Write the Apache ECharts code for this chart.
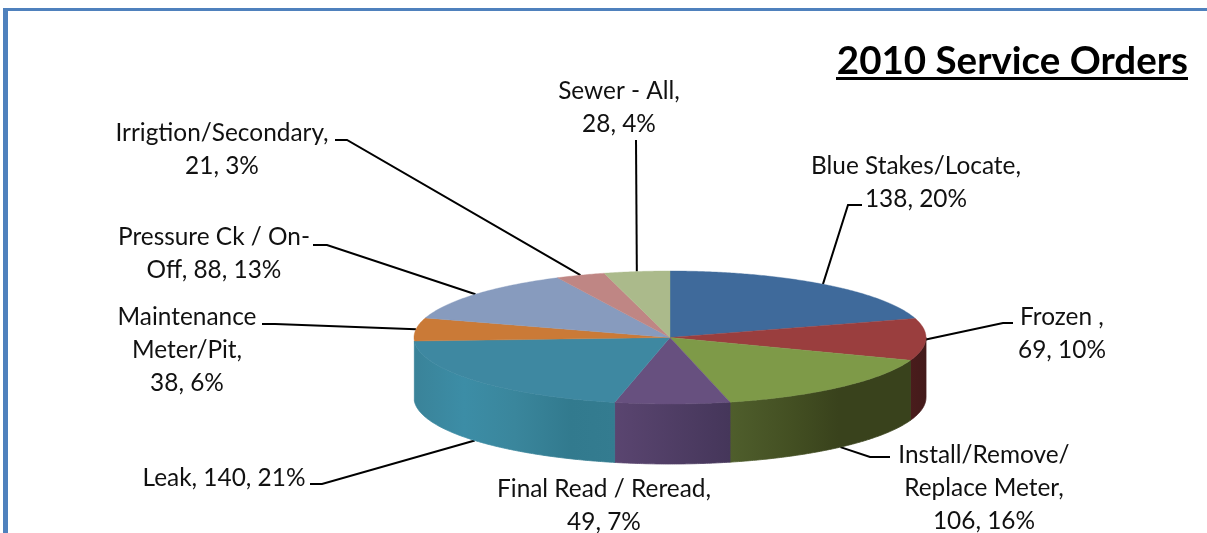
<!DOCTYPE html>
<html>
<head>
<meta charset="utf-8">
<style>html,body{margin:0;padding:0;background:#fff}#c{width:1207px;height:533px}</style>
<script src="https://cdn.jsdelivr.net/npm/echarts@6/dist/echarts.min.js"></script>
</head>
<body>
<div id="c"></div>
<script>
const chartTitle = '2010 Service Orders';
const categories = ['Blue Stakes/Locate','Frozen','Install/Remove/Replace Meter','Final Read / Reread','Leak','Maintenance Meter/Pit','Pressure Ck / On-Off','Irrigtion/Secondary','Sewer - All'];
const orderCounts = [138,69,106,49,140,38,88,21,28];
const percents = [20,10,16,7,21,6,13,3,4];
const labelTemplates = [
  'Blue Stakes/Locate,\n{v}, {p}%',
  'Frozen ,\n{v}, {p}%',
  'Install/Remove/\nReplace Meter,\n{v}, {p}%',
  'Final Read / Reread,\n{v}, {p}%',
  'Leak, {v}, {p}%',
  'Maintenance\nMeter/Pit,\n{v}, {p}%',
  'Pressure Ck / On-\nOff, {v}, {p}%',
  'Irrigtion/Secondary,\n{v}, {p}%',
  'Sewer - All,\n{v}, {p}%'
];
// presentation
const topColors = ['#3F6A9B','#9A3E3E','#7E9A48','#67507F','#3E88A1','#CA7A37','#879BBE','#BF8684','#ABBA8B'];
const wallStops = [
  null,
  [[0,'#4A1C1C'],[1,'#431A1A']],
  [[0,'#4F5E2C'],[0.35,'#434F22'],[0.6,'#39421C'],[1,'#39421C']],
  [[0,'#5A4570'],[1,'#45365A']],
  [[0,'#3A8399'],[0.25,'#3C8DA6'],[0.5,'#3A869C'],[0.78,'#327A8E'],[1,'#347C90']],
  null,null,null,null
];
// label centre x, centre y of text block, leader elbow points (label side first)
const labelLayout = [
  {x:916,y:183,leader:[[862,205],[848,205]]},
  {x:1062,y:334,leader:[[1013,323],[1003,323]]},
  {x:984,y:488,leader:[[890,457],[870,457]],onWall:true},
  {x:604,y:506,leader:null},
  {x:224,y:478,leader:[[310,484],[322,484]],onWall:true},
  {x:187,y:350,leader:[[262,324],[275,324]]},
  {x:214,y:254,leader:[[313,245],[327,245]]},
  {x:222,y:150,leader:[[335,140],[347,140]]},
  {x:619,y:108,leader:[[636,140]]}
];
const pie = {cx:670,cy:337.5,rx:256,ry:66.5,depth:60};
const FONT = 'Lato';

const total = orderCounts.reduce((a,b)=>a+b,0);
const pt = (deg,dy)=>{const r=deg*Math.PI/180;return [pie.cx+pie.rx*Math.sin(r),pie.cy-pie.ry*Math.cos(r)+(dy||0)];};
function arc(a,b,dy){const n=Math.max(2,Math.ceil((b-a)*2));const o=[];for(let i=0;i<=n;i++)o.push(pt(a+(b-a)*i/n,dy));return o;}

function sliceAngles(idx){
  let s=0;for(let i=0;i<idx;i++)s+=orderCounts[i];
  return [s/total*360,(s+orderCounts[idx])/total*360];
}

function renderWall(params,api){
  const i=params.dataIndex;
  const [a0,a1]=sliceAngles(i);
  const a=Math.max(a0,90),b=Math.min(a1,270);
  if(b<=a || !wallStops[i]) return {type:'group',children:[]};
  const top=arc(a,b,0),bot=arc(a,b,pie.depth).reverse();
  const stops=wallStops[i].map(s=>({offset:s[0],color:s[1]}));
  const grad={type:'linear',x:0,y:0,x2:1,y2:0,colorStops:stops};
  return {type:'polygon',shape:{points:top.concat(bot)},
    style:{fill:grad,stroke:grad,lineWidth:0.8}};
}
function renderTop(params,api){
  const i=params.dataIndex;
  const [a0,a1]=sliceAngles(i);
  const pts=[[pie.cx,pie.cy]].concat(arc(a0,a1,0));
  return {type:'polygon',shape:{points:pts},style:{fill:topColors[i],stroke:topColors[i],lineWidth:0.4}};
}
function renderLabel(params,api){
  const i=params.dataIndex;
  const [a0,a1]=sliceAngles(i);
  const L=labelLayout[i];
  const text=labelTemplates[i].replace('{v}',api.value(0)).replace('{p}',percents[i]);
  const children=[{type:'text',style:{text,x:L.x,y:L.y,align:'center',verticalAlign:'middle',font:'24.4px '+FONT,lineHeight:33,fill:'#111'}}];
  if(L.leader){
    const anchor=pt((a0+a1)/2,L.onWall?pie.depth:0);
    children.push({type:'polyline',shape:{points:L.leader.concat([anchor])},style:{stroke:'#000',lineWidth:2,fill:null}});
  }
  return {type:'group',children};
}
const seriesData=orderCounts.map((v,i)=>({name:categories[i],value:[v]}));
const custom=(fn,z)=>({type:'custom',coordinateSystem:'none',renderItem:fn,data:seriesData,z,silent:true,animation:false,clip:false});

const chart=echarts.init(document.getElementById('c'),null,{renderer:'canvas'});
chart.setOption({
  animation:false,
  backgroundColor:'#fff',
  title:{text:chartTitle,right:14,top:37,textStyle:{fontFamily:FONT,fontSize:38.5,fontWeight:'bold',color:'#000'}},
  graphic:[
    {type:'rect',shape:{x:3,y:8,width:1204,height:3},style:{fill:'#4F81BD'},silent:true},
    {type:'rect',shape:{x:3,y:8,width:5,height:525},style:{fill:'#4F81BD'},silent:true},
    {type:'rect',shape:{x:836,y:77,width:352,height:3},style:{fill:'#000'},silent:true}
  ],
  series:[custom(renderWall,2),custom(renderTop,3),custom(renderLabel,1)]
});
</script>
</body>
</html>
